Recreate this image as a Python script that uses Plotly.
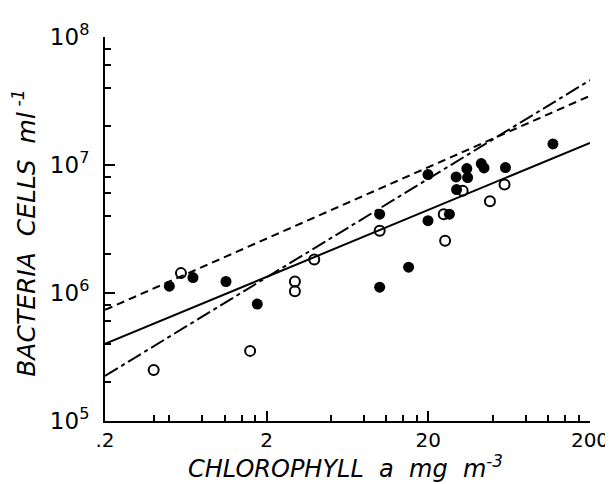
import plotly.graph_objects as go

# Filled circles (chlorophyll a mg m^-3, bacteria cells ml^-1)
filled_x = [0.50, 0.70, 1.12, 1.75, 10.0, 10.0, 15.1, 19.9, 19.9, 27.0, 29.7, 29.9,
            34.6, 35.0, 42.5, 44.2, 60.0, 118.0]
filled_y = [1.13e6, 1.32e6, 1.23e6, 8.2e5, 4.13e6, 1.11e6, 1.59e6, 8.42e6, 3.67e6, 4.13e6,
            8.07e6, 6.43e6, 9.37e6, 7.97e6, 1.026e7, 9.49e6, 9.55e6, 1.46e7]

# Open circles
open_x = [0.40, 0.59, 1.58, 2.99, 2.99, 3.94, 10.0, 24.9, 25.4, 32.6, 48.1, 59.2]
open_y = [2.5e5, 1.43e6, 3.53e5, 1.23e6, 1.03e6, 1.83e6, 3.06e6, 4.13e6, 2.56e6, 6.28e6,
          5.21e6, 7.03e6]

# Regression lines (end points at x = 0.2 and x = 200)
line_x = [0.2, 200]
solid_y = [4.0e5, 1.49e7]
dashed_y = [7.37e5, 3.47e7]
dashdot_y = [2.25e5, 4.6e7]

x_tickvals = [0.2, 2, 20, 200]
x_ticktext = [".2", "2", "20", "200"]
x_minor = [0.4, 0.5, 0.8, 1.1, 1.4, 1.7, 5, 8, 11, 14, 17, 50, 80, 110, 140, 170]
y_tickvals = [1e5, 1e6, 1e7, 1e8]
y_ticktext = ["10<sup>5</sup>", "10<sup>6</sup>", "10<sup>7</sup>", "10<sup>8</sup>"]
y_minor = [m * 10 ** e for e in (5, 6, 7) for m in (2, 4, 6, 8)]

fig = go.Figure()
fig.add_trace(go.Scatter(x=line_x, y=solid_y, mode="lines",
                         line=dict(color="black", width=2), showlegend=False))
fig.add_trace(go.Scatter(x=line_x, y=dashed_y, mode="lines",
                         line=dict(color="black", width=2, dash="8px,5px"), showlegend=False))
fig.add_trace(go.Scatter(x=line_x, y=dashdot_y, mode="lines",
                         line=dict(color="black", width=2, dash="15px,4px,4px,4px"),
                         showlegend=False))
fig.add_trace(go.Scatter(x=filled_x, y=filled_y, mode="markers",
                         marker=dict(symbol="circle", size=11, color="black"),
                         showlegend=False))
fig.add_trace(go.Scatter(x=open_x, y=open_y, mode="markers",
                         marker=dict(symbol="circle-open", size=10, color="black",
                                     line=dict(width=2, color="black")),
                         showlegend=False))

font_family = "DejaVu Sans"
fig.update_layout(
    width=613, height=484,
    margin=dict(l=97, r=26, t=28, b=71),
    paper_bgcolor="white", plot_bgcolor="white",
    font=dict(family=font_family, color="black", size=20),
    xaxis=dict(type="log", range=[-0.69897, 2.30103], showgrid=False, zeroline=False,
               showline=True, linecolor="black", linewidth=2,
               tickmode="array", tickvals=x_tickvals, ticktext=x_ticktext,
               ticks="inside", ticklen=10, tickwidth=2, tickcolor="black",
               tickfont=dict(size=20, family=font_family),
               minor=dict(tickmode="array", tickvals=x_minor, ticks="inside",
                          ticklen=6, tickwidth=2, tickcolor="black", showgrid=False)),
    yaxis=dict(type="log", range=[5, 8], showgrid=False, zeroline=False,
               showline=True, linecolor="black", linewidth=2,
               tickmode="array", tickvals=y_tickvals, ticktext=y_ticktext,
               ticks="inside", ticklen=10, tickwidth=2, tickcolor="black",
               ticklabelstandoff=9,
               tickfont=dict(size=23, family=font_family),
               minor=dict(tickmode="array", tickvals=y_minor, ticks="inside",
                          ticklen=6, tickwidth=2, tickcolor="black", showgrid=False)),
    annotations=[
        dict(text="<i>CHLOROPHYLL\u00a0\u00a0a\u00a0\u00a0mg\u00a0\u00a0m<sup>-3</sup></i>",
             xref="paper", yref="paper", x=0.495, y=-0.12,
             xanchor="center", yanchor="middle", showarrow=False,
             font=dict(size=24, family=font_family)),
        dict(text="<i>BACTERIA\u00a0\u00a0CELLS\u00a0\u00a0ml<sup>\u00a0-1</sup></i>",
             xref="paper", yref="paper", x=-0.165, y=0.49, textangle=-90,
             xanchor="center", yanchor="middle", showarrow=False,
             font=dict(size=25, family=font_family)),
    ],
)

fig.write_html("out.html")
